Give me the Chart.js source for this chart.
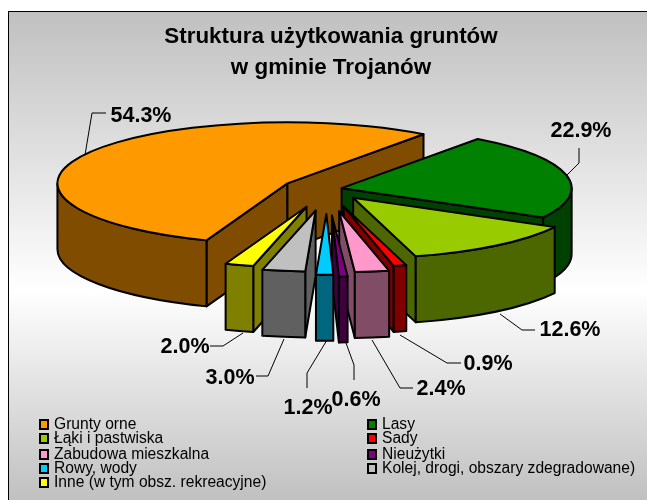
<!DOCTYPE html>
<html><head><meta charset="utf-8">
<style>html,body{margin:0;padding:0;background:#fff}canvas{display:block}</style>
<script src="https://cdn.jsdelivr.net/npm/chart.js@4"></script>
</head><body>
<div style="width:647px;height:500px"><canvas id="c" width="647" height="500"></canvas></div>
<script>
const categories = ['Grunty orne','Lasy','Łąki i pastwiska','Sady','Zabudowa mieszkalna','Nieużytki','Rowy, wody','Kolej, drogi, obszary zdegradowane)','Inne (w tym obsz. rekreacyjne)'];
const shares = [54.3,22.9,12.6,0.9,2.4,0.6,1.2,3.0,2.0];
const shareLabels = ['54.3%','22.9%','12.6%','0.9%','2.4%','0.6%','1.2%','3.0%','2.0%'];
const topColors = ['#FF9900','#008000','#99CC00','#FF0000','#FF99CC','#800080','#00CCFF','#C0C0C0','#FFFF00'];
const wallColors = ['#7F4C00','#004000','#4C6600','#800000','#804C66','#400040','#006680','#606060','#808000'];
const explode = [45,15,42,68,85,100,94,82,70];
const paintOrder = [0,1,2,8,7,3,4,5,6];
const titleLines = ['Struktura użytkowania gruntów','w gminie Trojanów'];

const pie = {cx:327, cy:189, radius:230, squash:0.265, depth:66};
const frame = {x:8, y:11, r:648, b:501};
// label anchor (text centre) and leader polyline for each slice
const labelPos = [[141,116],[581,131],[570,330],[488,364],[441,389],[356,400],[308,408],[230,378],[185,347]];
const leaders = [
 [[85,155],[92,113],[106,113]],
 [[567,175],[579,163],[579,148]],
 [[500,314],[522,330],[535,330]],
 [[400,335],[447,363],[461,363]],
 [[372,340],[400,388],[413,388]],
 [[346,343],[354,365],[354,380]],
 [[327,340],[307,373],[307,388]],
 [[284,339],[268,376],[256,376]],
 [[243,333],[223,346],[210,346]]
];
const legendCols = [39,367];
const legendBaselines = [429,443,459,473,487];
const FONT = '"Liberation Sans", Arial, sans-serif';

const pie3d = {
  id:'pie3d',
  beforeDraw(chart){
    const {ctx,width,height} = chart;
    ctx.save();
    ctx.fillStyle='#fff';ctx.fillRect(0,0,width,height);
    const g = ctx.createLinearGradient(0,frame.y,0,frame.b);
    g.addColorStop(0,'#C0C0C0');g.addColorStop(0.57,'#FFFFFF');g.addColorStop(1,'#C0C0C0');
    ctx.fillStyle=g;ctx.fillRect(frame.x,frame.y,frame.r-frame.x,frame.b-frame.y);
    ctx.strokeStyle='#000';ctx.lineWidth=1;
    ctx.strokeRect(frame.x+.5,frame.y+.5,frame.r-frame.x,frame.b-frame.y);
    ctx.restore();
  },
  beforeDatasetDraw(chart,args){
    const {ctx} = chart;
    const arcs = chart.getDatasetMeta(args.index).data;
    for(const i of paintOrder){
      const a = arcs[i];
      const {startAngle:s,endAngle:e,outerRadius:R} = a;
      const off = explode[i], mid=(s+e)/2;
      const ax = pie.cx+Math.cos(mid)*off, ay = pie.cy+Math.sin(mid)*off*pie.squash;
      const px = t=>[ax+Math.cos(t)*R, ay+Math.sin(t)*R*pie.squash];
      const ellipse = (t0,t1,ccw,dy)=>ctx.ellipse(ax,ay+dy,R,R*pie.squash,0,t0,t1,ccw);
      ctx.save();
      ctx.lineWidth=2;ctx.lineJoin='round';ctx.strokeStyle='#000';ctx.fillStyle=wallColors[i];
      const quad = t=>{
        const p=px(t);
        ctx.beginPath();ctx.moveTo(ax,ay);ctx.lineTo(p[0],p[1]);ctx.lineTo(p[0],p[1]+pie.depth);ctx.lineTo(ax,ay+pie.depth);ctx.closePath();
        ctx.fill();ctx.stroke();
      };
      if(Math.cos(s)<0) quad(s);
      if(Math.cos(e)>0) quad(e);
      // outer wall: the part of the rim that faces the viewer
      for(const k of [0,2]){
        const t0=Math.max(s,k*Math.PI), t1=Math.min(e,(k+1)*Math.PI);
        if(t1>t0){
          ctx.beginPath();ellipse(t0,t1,false,0);ellipse(t1,t0,true,pie.depth);ctx.closePath();
          ctx.fill();ctx.stroke();
        }
      }
      ctx.restore();
      // top face, drawn by the library's arc element, exploded and squashed
      ctx.save();
      ctx.translate(ax,ay);ctx.scale(1,pie.squash);ctx.translate(-a.x,-a.y);
      a.draw(ctx);
      ctx.restore();
      // even outline
      ctx.save();
      ctx.lineWidth=2;ctx.lineJoin='round';ctx.strokeStyle='#000';
      ctx.beginPath();ctx.moveTo(ax,ay);ellipse(s,e,false,0);ctx.closePath();ctx.stroke();
      ctx.restore();
    }
    return false;
  },
  afterDraw(chart){
    const {ctx} = chart;
    ctx.save();
    ctx.strokeStyle='#000';ctx.lineWidth=1;
    leaders.forEach(l=>{ctx.beginPath();l.forEach((p,j)=>j?ctx.lineTo(p[0],p[1]):ctx.moveTo(p[0],p[1]));ctx.stroke();});
    ctx.fillStyle='#000';ctx.textAlign='center';ctx.textBaseline='middle';
    ctx.font='bold 21.5px '+FONT;
    shareLabels.forEach((t,i)=>ctx.fillText(t,labelPos[i][0],labelPos[i][1]));
    // legend, filled row by row in two columns
    ctx.textAlign='left';ctx.textBaseline='alphabetic';ctx.font='15.6px '+FONT;
    categories.forEach((t,i)=>{
      const x=legendCols[i%2], y=legendBaselines[Math.floor(i/2)];
      ctx.fillStyle=topColors[i];ctx.fillRect(x+1,y-9,8,9);
      ctx.strokeStyle='#000';ctx.lineWidth=2;ctx.strokeRect(x+1,y-9,8,9);
      ctx.fillStyle='#000';ctx.fillText(t,x+15,y);
    });
    ctx.restore();
  }
};

new Chart(document.getElementById('c'),{
  type:'pie',
  data:{labels:categories,datasets:[{
    data:shares,backgroundColor:topColors,borderWidth:0,radius:pie.radius,clip:false
  }]},
  options:{
    responsive:false,animation:false,rotation:200.6,
    layout:{padding:{left:15,right:0,top:0,bottom:0}},
    plugins:{
      legend:{display:false},tooltip:{enabled:false},
      title:{display:true,text:titleLines,color:'#000',font:{family:FONT,size:22.4,weight:'bold',lineHeight:1.38},padding:{top:21,bottom:0}}
    }
  },
  plugins:[pie3d]
});
</script>
</body></html>
